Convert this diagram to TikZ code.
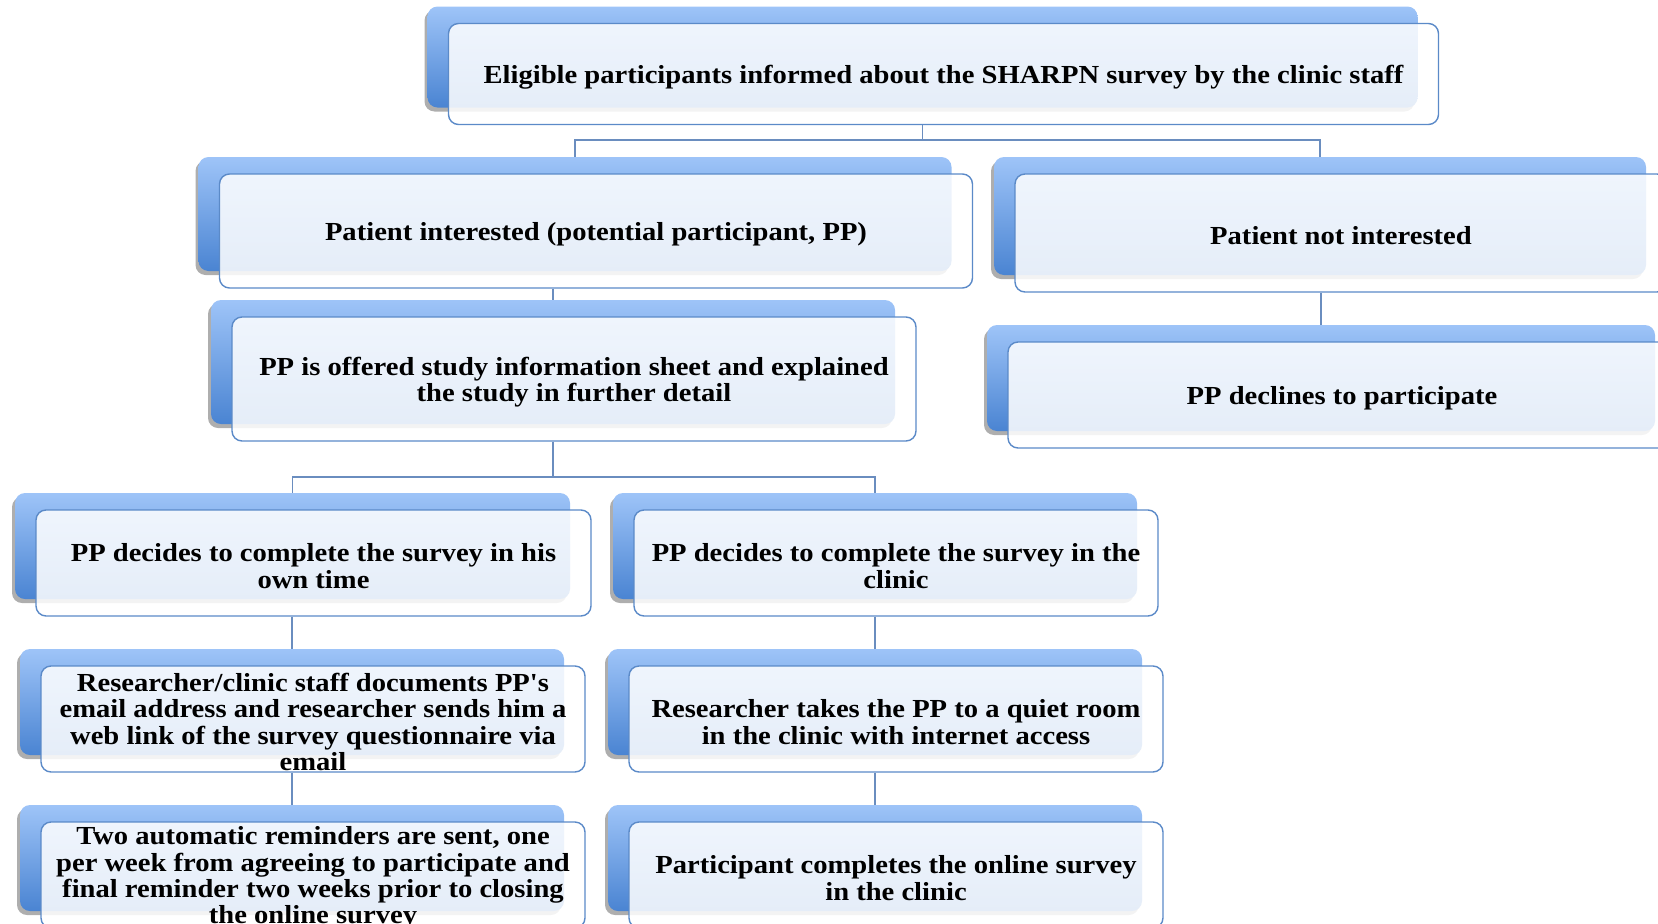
\documentclass[tikz,border=0pt]{standalone}
\usepackage{fontspec}
\newfontfamily\boxfont{Liberation Serif}[FakeStretch=1.1]
\usetikzlibrary{shadows,calc}
\definecolor{backtop}{HTML}{9EC4F8}
\definecolor{backbottom}{HTML}{4A84D2}
\definecolor{frameblue}{HTML}{5B8AC8}
\definecolor{linkblue}{HTML}{6A8DBF}
\tikzset{backbox/.style={rounded corners=10pt,top color=backtop,bottom color=backbottom,
  drop shadow={shadow xshift=-3pt,shadow yshift=-4pt,opacity=0.45,fill=black!70}}}
\tikzset{frontbox/.style={rounded corners=10pt,draw=frameblue,line width=1.4pt,fill=white,
  fill opacity=0.86,text opacity=1,inner sep=0pt}}
\tikzset{boxtext/.style={fill opacity=1,text opacity=1,align=center,inner sep=0pt,yshift=-3pt,
  font=\fontsize{26}{26.4}\boxfont\bfseries\selectfont}}
\tikzset{link/.style={draw=linkblue,line width=1.5pt}}
% back panel at (x,y), front panel shifted right and down
\newcommand{\flowbox}[6]{%
  \node (#1b) [backbox,minimum width=#4pt,minimum height=#5pt] at (#2,#3) {};
  \node (#1) [frontbox,minimum width=#4pt,minimum height=#5pt,
    label={[boxtext]center:{#6}}] at ([shift={(21,17)}]#1b.center) {};
}

\begin{document}
\begin{tikzpicture}[x=1pt,y=-1pt]
\useasboundingbox (0,0) rectangle (1658,924);
\clip (0,0) rectangle (1658,924);
% \draw[help lines,step=100] (0,0) grid (1658,924);
\flowbox{top}{922.5}{57}{990}{101}{Eligible participants informed about the SHARPN survey by the clinic staff}
\flowbox{intr}{575}{214}{753}{114}{Patient interested (potential participant, PP)}
\flowbox{notintr}{1320}{216}{652}{118}{Patient not interested}
\flowbox{offer}{553}{362}{684}{124}{PP is offered study information sheet and explained\\the study in further detail}
\flowbox{decl}{1321}{378}{668}{106}{PP declines to participate}
\flowbox{own}{292.5}{546}{555}{106}{PP decides to complete the survey in his\\own time}
\flowbox{clin}{875}{546}{524}{106}{PP decides to complete the survey in the\\clinic}
\flowbox{email}{292}{702}{544}{106}{Researcher/clinic staff documents PP's\\email address and researcher sends him a\\web link of the survey questionnaire via\\email}
\flowbox{room}{875}{702}{534}{106}{Researcher takes the PP to a quiet room\\in the clinic with internet access}
\flowbox{remind}{292}{858}{544}{106}{Two automatic reminders are sent, one\\per week from agreeing to participate and\\final reminder two weeks prior to closing\\the online survey}
\flowbox{done}{875}{858}{534}{106}{Participant completes the online survey\\in the clinic}
%
\draw[link] (top.south -| topb.south) |- ($(intrb.north)+(0,-17)$) -- (intrb.north);
\draw[link] (top.south -| topb.south) |- ($(notintrb.north)+(0,-17)$) -- (notintrb.north);
\draw[link] (intr.south -| offerb.north) -- (offerb.north);
\draw[link] (notintr.south -| declb.north) -- (declb.north);
\draw[link] (offer.south -| offerb.south) |- ($(ownb.north)+(0,-16)$) -- (ownb.north);
\draw[link] (offer.south -| offerb.south) |- ($(clinb.north)+(0,-16)$) -- (clinb.north);
\draw[link] (own.south -| emailb.north) -- (emailb.north);
\draw[link] (clin.south -| roomb.north) -- (roomb.north);
\draw[link] (email.south -| remindb.north) -- (remindb.north);
\draw[link] (room.south -| doneb.north) -- (doneb.north);
\end{tikzpicture}
\end{document}
